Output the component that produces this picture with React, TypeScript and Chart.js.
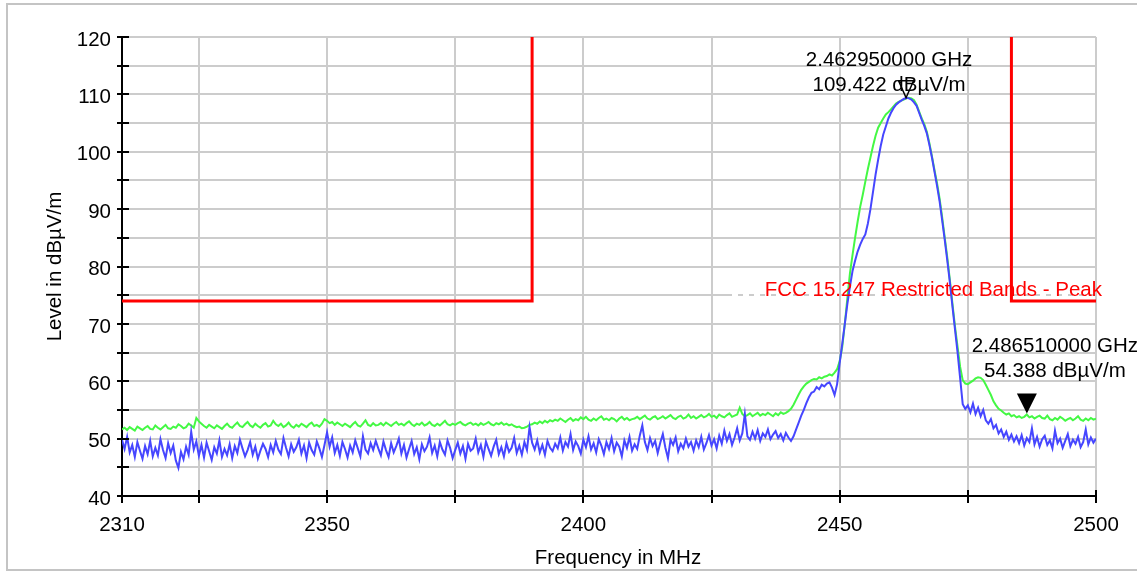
import React, { useEffect, useRef } from 'react';
import { Chart, registerables } from 'chart.js';

Chart.register(...registerables);

// Frequency grid of the traces (MHz)
const FREQ_START = 2310;
const FREQ_STEP = 0.5;

// Peak (green) trace, dBµV/m
const peakTraceA = [
  51.6, 51.9, 51.5, 52.0, 51.7, 51.4, 52.1, 51.8, 51.5, 51.9,
  52.2, 51.7, 51.6, 52.3, 51.9, 51.6, 52.0, 52.4, 51.8, 51.7,
  52.1, 51.9, 52.5, 52.2, 51.8, 52.0, 52.6, 52.3, 51.9, 53.6,
  53.0, 52.6, 52.2, 51.9, 52.4, 52.1, 51.8, 52.3, 52.0, 51.7,
  52.2, 52.6, 52.1, 51.9, 52.4, 52.8, 52.2, 52.0, 52.5, 52.9,
  52.3, 52.0, 52.6, 52.2, 51.9, 52.4, 52.7, 52.1, 52.3, 53.1,
  52.5, 52.2, 52.6, 52.0, 52.3, 52.8, 52.2, 51.9, 52.4, 52.1,
  52.6, 52.3, 52.0, 52.5, 52.8, 52.2, 52.4, 52.1, 52.6, 53.4,
  53.1, 52.7, 52.9, 52.4, 52.8, 52.5, 52.2, 52.6, 52.3, 52.0,
  52.5, 52.9, 52.3, 52.1, 52.6, 53.2, 52.4, 52.2, 52.7, 52.3,
];
const peakTraceB = [
  52.4, 52.7, 52.3, 52.8, 52.5, 52.2, 52.6, 52.9, 52.4, 52.6,
  52.3, 52.7, 53.0, 52.5, 52.2, 52.6, 52.4, 52.8, 52.3, 52.5,
  52.9, 52.4, 52.2, 52.6, 52.3, 52.7, 53.1, 52.5, 52.3, 52.6,
  52.4, 52.7, 52.9, 52.5, 52.3, 52.6, 52.8, 52.4, 52.6, 52.3,
  52.7, 52.4, 52.6, 52.9, 52.5, 52.3, 52.7, 52.5, 52.8, 52.4,
  52.6, 52.3, 52.5, 52.2, 52.0, 52.1, 51.8, 51.9, 52.1, 52.4,
  52.5, 52.8, 52.6, 53.0, 52.7, 53.1, 52.8, 53.2, 53.0, 53.3,
  53.1, 53.5, 53.2, 52.9, 53.3, 53.6, 53.1, 53.4, 53.2, 53.7,
  53.4, 53.8, 53.3, 53.1, 53.5, 53.2, 53.6, 53.9, 53.3, 53.5,
  53.2, 53.6, 53.4, 53.0, 53.5, 53.8, 53.3, 53.6, 53.2, 53.4,
];
const peakTraceC = [
  53.5, 53.8, 53.4, 53.7, 54.0, 53.5, 53.3, 53.7, 53.9, 53.4,
  53.6, 53.9, 53.5, 53.8, 54.1, 53.6, 53.4, 53.8, 54.0, 53.5,
  53.7, 54.2, 53.6, 53.9, 53.5, 53.8, 54.1, 53.7, 53.9, 54.3,
  53.8, 54.0, 53.6, 54.2, 53.9, 53.7, 54.1, 54.4, 53.8, 54.0,
  54.2, 55.4, 54.3, 53.9, 54.1, 54.4, 53.9, 54.2, 54.5, 54.0,
  54.3, 54.1, 54.5, 54.2, 53.9, 54.4, 54.1, 54.6, 54.3, 54.5,
  54.8, 55.2, 55.9, 56.8, 57.7, 58.5, 59.1, 59.6, 59.9, 60.2,
  60.4, 60.3, 60.7, 60.5, 60.8, 60.9, 61.2, 61.0, 61.5, 62.1,
  63.5, 66.0, 70.0, 74.5, 78.8, 82.0, 85.0, 87.8, 90.4, 92.5,
  94.8, 97.0, 99.0, 101.0, 102.8, 104.2, 105.0, 105.8, 106.5, 106.9,
];
const peakTraceD = [
  107.4, 107.9, 108.4, 108.7, 108.9, 109.1, 109.3, 109.4, 109.3, 109.0,
  108.2, 107.0, 105.8, 104.8, 103.5, 101.5, 99.2, 96.8, 94.5, 91.8,
  88.5, 85.0, 81.5, 77.6, 73.5, 69.5, 66.0, 62.5, 60.2, 59.6,
  59.5, 59.8, 60.1, 60.5, 60.7, 60.6, 60.2, 59.4, 58.5, 57.6,
  56.5, 55.8, 55.2, 54.9, 54.5, 54.2, 54.4, 53.9, 54.1, 53.7,
  53.9, 53.6, 53.8, 54.2, 53.7, 53.9, 53.5, 53.8, 54.0, 53.6,
  53.5, 54.0, 53.4, 53.2, 53.6, 53.3, 53.8, 53.5, 53.1, 53.4,
  53.6, 53.2, 53.5, 53.9, 53.3, 53.1, 53.5, 53.2, 53.6, 53.3,
  53.5,
];

// Average (blue) trace, dBµV/m
const avgTraceA = [
  49.8, 48.2, 50.3, 47.6, 48.9, 46.8, 49.4, 47.9, 46.5, 48.7,
  47.3, 49.6, 46.9, 48.4, 47.1, 49.9, 48.0, 46.6, 49.2, 47.5,
  48.8, 46.2, 44.9, 47.7, 46.4, 48.6, 47.2, 51.2, 48.1, 49.5,
  47.0, 48.9, 46.7, 49.3, 47.8, 46.3, 48.5, 47.4, 49.7, 46.8,
  48.2, 47.1, 49.0, 46.6, 48.7, 47.5, 49.8, 48.3, 46.9, 48.0,
  49.4, 47.2, 48.6, 46.5, 47.9, 49.1, 48.2, 46.8, 48.9, 47.6,
  49.6, 48.1, 47.3, 50.1, 48.4, 46.9, 49.0, 47.7, 48.5, 49.8,
  47.4, 48.8, 46.6, 49.3, 48.0, 47.2, 49.5, 48.3, 46.8, 48.9,
  51.1, 48.6, 50.2, 47.5, 48.9, 47.0, 49.4, 48.2, 46.7, 48.8,
  47.6, 49.7, 48.3, 46.9, 50.4, 48.1, 47.4, 49.2, 48.0, 49.6,
];
const avgTraceB = [
  48.3, 47.1, 49.5, 48.0, 46.8, 49.2, 47.6, 48.7, 50.0, 47.4,
  48.9, 46.7, 48.2, 49.6, 47.3, 48.5, 46.4, 49.0, 47.8, 48.6,
  50.2, 47.5, 48.8, 46.9, 49.4, 48.1, 47.2, 49.7, 48.4, 46.6,
  48.0, 49.3, 47.4, 48.7, 46.5, 49.1, 47.9, 48.3, 50.0, 47.6,
  48.9, 46.8, 49.5, 48.2, 47.0, 48.6, 49.8, 47.3, 48.5, 46.9,
  49.2, 47.7, 48.4, 50.1, 47.5, 48.8, 47.2, 49.4, 48.0, 52.0,
  49.3, 48.1, 49.7, 47.6, 48.9, 47.2, 49.6, 48.4, 47.8, 49.1,
  48.3, 50.2, 47.9, 49.4, 48.6, 50.8, 48.0, 49.5, 48.7, 47.4,
  49.8, 48.5, 50.4, 48.1, 49.2, 47.6, 49.9, 48.8, 47.3, 49.4,
  48.2, 50.1, 47.8, 49.3, 48.6, 46.9, 49.7, 48.4, 50.3, 47.9,
];
const avgTraceC = [
  49.0, 48.2, 50.5, 52.3, 49.4, 48.0, 50.1, 48.7, 49.6, 47.5,
  49.3, 50.8, 48.4, 46.6, 49.8, 48.9, 50.2, 47.8, 49.1, 48.3,
  50.0, 48.6, 49.4, 47.9, 49.7, 48.5, 50.3, 48.1, 49.2, 50.6,
  48.8, 49.9, 48.3, 50.5, 49.1, 51.4, 49.6, 50.8, 48.9, 50.2,
  51.8, 49.7, 50.9, 54.3, 50.4, 49.8, 51.2, 50.0, 51.5, 49.6,
  50.9, 50.3, 51.6, 49.9, 50.7, 51.3, 50.1, 50.8, 49.7, 51.0,
  50.2, 49.6, 50.4, 51.6, 52.8, 54.0, 55.0, 56.2, 57.2, 58.0,
  58.2, 59.0, 58.6, 59.4, 59.1, 59.6, 59.8, 58.9, 57.6, 59.5,
  63.2, 66.5, 70.0, 73.5, 76.5, 79.2, 81.0, 82.6, 83.8, 84.8,
  85.6, 87.5, 90.0, 93.0, 96.0, 98.6, 101.0, 103.0, 104.4, 105.8,
];
const avgTraceD = [
  106.8, 107.6, 108.2, 108.6, 108.9, 109.2, 109.4, 109.3, 109.1, 108.6,
  108.0, 106.8, 105.6, 104.5, 103.2, 101.2, 99.0, 96.5, 94.0, 91.3,
  88.0, 84.6, 81.0, 77.2, 73.0, 69.0, 65.0, 60.5, 56.0, 55.2,
  55.8, 54.6, 56.1, 54.3, 55.4, 53.9, 55.0, 53.2, 52.6, 53.4,
  51.8, 52.4, 50.9, 51.6, 50.3, 51.2, 49.8, 50.7, 49.5, 50.4,
  49.2, 50.6, 48.8, 50.1, 49.4, 51.8, 49.0, 50.3, 48.6, 49.9,
  50.5, 48.9, 49.7, 48.3, 51.4, 49.2, 50.0, 48.4, 49.6, 50.8,
  48.7, 49.8, 49.1, 50.3, 48.5, 49.4, 51.6, 49.0, 50.2, 49.3,
  50.0,
];

// Limit line (FCC 15.247 restricted bands, peak)
const limitLowFreq = [2310, 2390, 2390];
const limitLowLevel = [74, 74, 120];
const limitHighFreq = [2483.5, 2483.5, 2500];
const limitHighLevel = [120, 74, 74];
const LIMIT_LABEL = 'FCC 15.247 Restricted Bands - Peak';

// Axes
const X_MIN = 2310;
const X_MAX = 2500;
const X_TICKS = [2310, 2325, 2350, 2375, 2400, 2425, 2450, 2475, 2500];
const X_TICK_LABELS = [2310, 2350, 2400, 2450, 2500];
const Y_MIN = 40;
const Y_MAX = 120;
const Y_STEP = 5;
const Y_TICK_LABELS = [40, 50, 60, 70, 80, 90, 100, 110, 120];
const X_TITLE = 'Frequency in MHz';
const Y_TITLE = 'Level in dBµV/m';

// Markers
const markerFreq = [2462.95, 2486.51];
const markerLevel = [109.422, 54.388];
const markerLine1 = ['2.462950000 GHz', '2.486510000 GHz'];
const markerLine2 = ['109.422 dBµV/m', '54.388 dBµV/m'];

const FONT = '"Liberation Sans", Arial, sans-serif';
const FONT_SIZE = 20.5;

const toPoints = (vals: number[]) =>
  vals.map((v, i) => ({ x: FREQ_START + i * FREQ_STEP, y: v }));
const zipPoints = (xs: number[], ys: number[]) => xs.map((x, i) => ({ x, y: ys[i] }));

const overlayPlugin = {
  id: 'overlay',
  beforeDraw(chart: any) {
    const ctx = chart.ctx;
    ctx.save();
    ctx.fillStyle = '#ffffff';
    ctx.fillRect(0, 0, chart.width, chart.height);
    ctx.strokeStyle = '#c4c4c4';
    ctx.lineWidth = 2;
    ctx.strokeRect(7, 4, chart.width + 20, 566);
    ctx.restore();
  },
  beforeDatasetsDraw(chart: any) {
    const { ctx, chartArea, scales } = chart;
    const y = scales.y;
    ctx.save();
    ctx.strokeStyle = '#ffffff';
    ctx.lineWidth = 2;
    ctx.setLineDash([6, 5]);
    const py = Math.round(y.getPixelForValue(75));
    ctx.beginPath();
    ctx.moveTo(732, py);
    ctx.lineTo(chartArea.right - 2, py);
    ctx.stroke();
    ctx.restore();
  },
  afterDraw(chart: any) {
    const { ctx, chartArea, scales } = chart;
    const x = scales.x;
    const y = scales.y;
    ctx.save();
    // tick marks
    ctx.strokeStyle = '#000000';
    ctx.lineWidth = 2;
    ctx.beginPath();
    for (let v = Y_MIN; v <= Y_MAX; v += Y_STEP) {
      const py = Math.round(y.getPixelForValue(v));
      ctx.moveTo(chartArea.left - 5, py);
      ctx.lineTo(chartArea.left + 7, py);
    }
    X_TICKS.forEach((v) => {
      const px = Math.round(x.getPixelForValue(v));
      ctx.moveTo(px, chartArea.bottom - 6);
      ctx.lineTo(px, chartArea.bottom + 7);
    });
    ctx.stroke();

    // tick labels
    ctx.fillStyle = '#000000';
    ctx.font = `${FONT_SIZE}px ${FONT}`;
    ctx.textBaseline = 'middle';
    ctx.textAlign = 'right';
    Y_TICK_LABELS.forEach((v) => {
      ctx.fillText(String(v), chartArea.left - 11, y.getPixelForValue(v) + 3);
    });
    ctx.textAlign = 'center';
    X_TICK_LABELS.forEach((v) => {
      ctx.fillText(String(v), x.getPixelForValue(v), chartArea.bottom + 29);
    });

    // axis titles
    ctx.fillText(X_TITLE, (chartArea.left + chartArea.right) / 2 + 9, chartArea.bottom + 62);
    ctx.save();
    ctx.translate(55, (chartArea.top + chartArea.bottom) / 2);
    ctx.rotate(-Math.PI / 2);
    ctx.fillText(Y_TITLE, 0, 0);
    ctx.restore();

    // limit label
    ctx.fillStyle = '#ff0000';
    ctx.textAlign = 'right';
    ctx.fillText(LIMIT_LABEL, chartArea.right + 6, y.getPixelForValue(limitLowLevel[0]) - 11);

    // markers
    ctx.fillStyle = '#000000';
    ctx.strokeStyle = '#000000';
    {
      const mx = x.getPixelForValue(markerFreq[0]);
      const my = y.getPixelForValue(markerLevel[0]);
      ctx.textAlign = 'center';
      ctx.fillText(markerLine1[0], mx - 17, my - 37);
      ctx.fillText(markerLine2[0], mx - 17, my - 12);
      ctx.lineWidth = 1.5;
      ctx.beginPath();
      ctx.moveTo(mx, my);
      ctx.lineTo(mx - 7.5, my - 17);
      ctx.lineTo(mx + 7.5, my - 17);
      ctx.closePath();
      ctx.stroke();
    }
    {
      const mx = x.getPixelForValue(markerFreq[1]);
      const my = y.getPixelForValue(markerLevel[1]);
      ctx.textAlign = 'center';
      ctx.fillText(markerLine1[1], mx + 28, my - 67);
      ctx.fillText(markerLine2[1], mx + 28, my - 42);
      ctx.beginPath();
      ctx.moveTo(mx, my);
      ctx.lineTo(mx - 10, my - 20);
      ctx.lineTo(mx + 10, my - 20);
      ctx.closePath();
      ctx.fill();
    }
    ctx.restore();
  },
};

export default function App() {
  const canvasRef = useRef<HTMLCanvasElement | null>(null);

  useEffect(() => {
    document.body.style.margin = '0';
    const canvas = canvasRef.current;
    if (!canvas) return;
    const peakTrace = [...peakTraceA, ...peakTraceB, ...peakTraceC, ...peakTraceD];
    const avgTrace = [...avgTraceA, ...avgTraceB, ...avgTraceC, ...avgTraceD];

    const chart = new Chart(canvas, {
      type: 'line',
      data: {
        datasets: [
          {
            label: 'Limit low',
            data: zipPoints(limitLowFreq, limitLowLevel),
            borderColor: '#ff0000',
            borderWidth: 3,
            pointRadius: 0,
            fill: false,
            tension: 0,
          },
          {
            label: 'Limit high',
            data: zipPoints(limitHighFreq, limitHighLevel),
            borderColor: '#ff0000',
            borderWidth: 3,
            pointRadius: 0,
            fill: false,
            tension: 0,
          },
          {
            label: 'Average',
            data: toPoints(avgTrace),
            borderColor: '#4646ff',
            borderWidth: 2,
            pointRadius: 0,
            fill: false,
            tension: 0,
          },
          {
            label: 'Peak',
            data: toPoints(peakTrace),
            borderColor: '#44f844',
            borderWidth: 2,
            pointRadius: 0,
            fill: false,
            tension: 0,
          },
        ],
      },
      options: {
        responsive: false,
        animation: false,
        devicePixelRatio: 1,
        parsing: false as any,
        layout: { padding: { left: 0, top: 37, right: 41, bottom: 0 } },
        plugins: {
          legend: { display: false },
          tooltip: { enabled: false },
          title: { display: false },
        },
        scales: {
          x: {
            type: 'linear',
            min: X_MIN,
            max: X_MAX,
            afterBuildTicks: (scale: any) => {
              scale.ticks = X_TICKS.map((v) => ({ value: v }));
            },
            afterFit: (scale: any) => {
              scale.height = 79;
            },
            ticks: { display: false, autoSkip: false },
            grid: { color: '#cccccc', lineWidth: 2, drawTicks: false },
            border: { color: '#000000', width: 2 },
            title: { display: false },
          },
          y: {
            type: 'linear',
            min: Y_MIN,
            max: Y_MAX,
            ticks: { display: false, stepSize: Y_STEP, autoSkip: false },
            afterFit: (scale: any) => {
              scale.width = 122;
            },
            grid: { color: '#cccccc', lineWidth: 2, drawTicks: false },
            border: { color: '#000000', width: 2 },
            title: { display: false },
          },
        },
      },
      plugins: [overlayPlugin],
    });
    return () => chart.destroy();
  }, []);

  return (
    <canvas
      ref={canvasRef}
      width={1137}
      height={575}
      style={{ display: 'block', width: 1137, height: 575 }}
    />
  );
}
